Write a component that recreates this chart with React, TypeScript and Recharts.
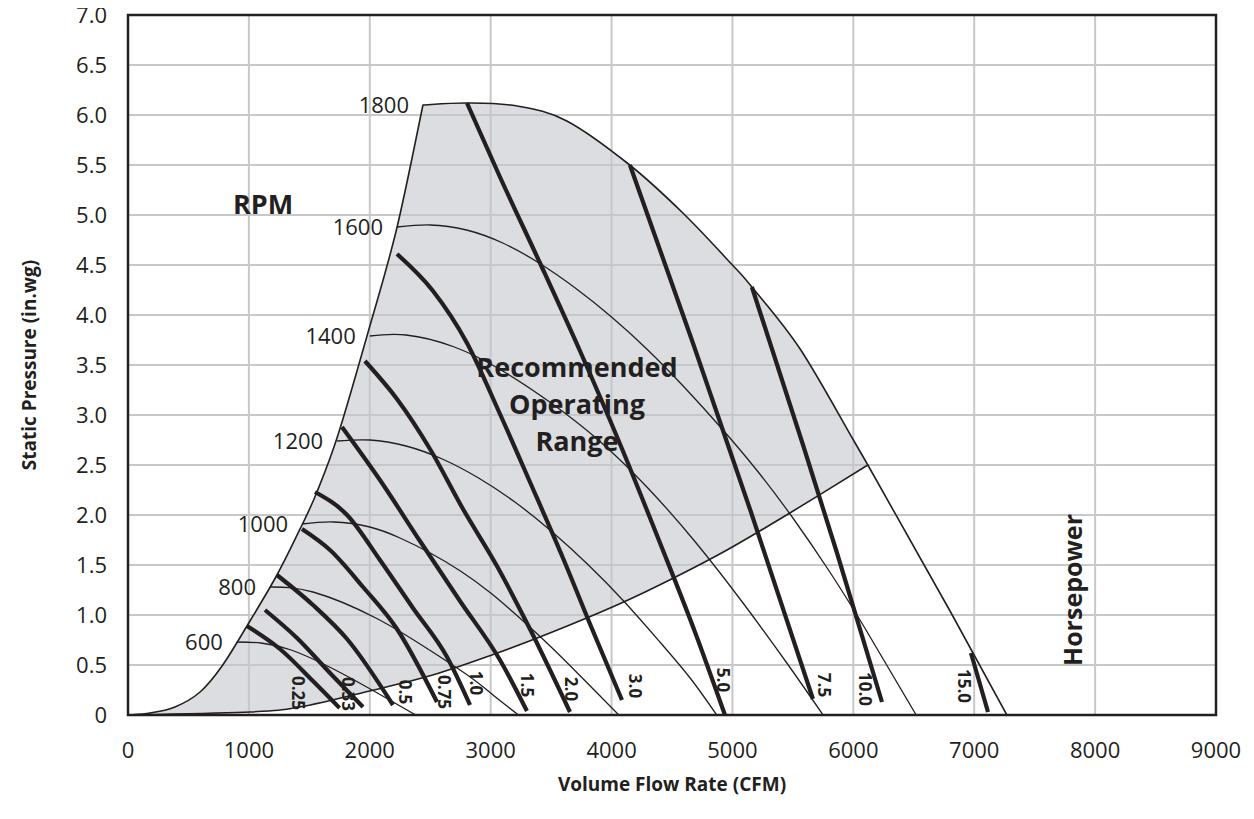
import React from "react";
import {
  ComposedChart,
  Scatter,
  XAxis,
  YAxis,
  CartesianGrid,
  ReferenceArea,
  ReferenceDot,
  Label,
} from "recharts";

type Pt = [number, number];

const xTicks = [0, 1000, 2000, 3000, 4000, 5000, 6000, 7000, 8000, 9000];
const yTicks = [0, 0.5, 1, 1.5, 2, 2.5, 3, 3.5, 4, 4.5, 5, 5.5, 6, 6.5, 7];

// edges of the shaded "Recommended Operating Range"
const surgeLine: Pt[] = [
  [0, 0], [182, 0.02], [389, 0.08], [596, 0.23], [778, 0.49], [984, 0.89],
  [1232, 1.4], [1439, 1.9], [1563, 2.23], [1737, 2.8], [1977, 3.79],
  [2220, 4.85], [2440, 6.1],
];
const maxSpeedTop: Pt[] = [
  [2440, 6.1], [2800, 6.12], [3220, 6.09], [3630, 5.94], [4150, 5.5],
  [4590, 5.02], [5000, 4.5], [5161, 4.28], [5560, 3.66], [6010, 2.73],
  [6120, 2.5],
];
const maxSpeedTail: Pt[] = [[6120, 2.5], [6800, 1.04], [7270, 0]];
const systemLine: Pt[] = [
  [0, 0], [1010, 0.03], [1420, 0.08], [2000, 0.24], [2520, 0.4], [3010, 0.6],
  [3490, 0.82], [4045, 1.1], [4480, 1.35], [4955, 1.65], [5475, 2.02], [6120, 2.5],
];

// fan curves (thin)
const rpm600: Pt[] = [[900, 0.73], [1100, 0.72], [1350, 0.65], [1650, 0.49], [1900, 0.33], [2150, 0.16], [2380, 0]];
const rpm800: Pt[] = [[1175, 1.28], [1530, 1.23], [2050, 0.97], [2480, 0.66], [2830, 0.38], [3030, 0.19], [3230, 0]];
const rpm1000: Pt[] = [[1440, 1.91], [1700, 1.93], [2000, 1.88], [2250, 1.77], [2500, 1.62], [2750, 1.44], [3000, 1.22], [3250, 0.96], [3500, 0.68], [3750, 0.38], [4060, 0]];
const rpm1200: Pt[] = [[1730, 2.74], [2000, 2.75], [2300, 2.69], [2600, 2.56], [2900, 2.37], [3200, 2.13], [3500, 1.84], [3800, 1.51], [4100, 1.14], [4400, 0.73], [4650, 0.37], [4870, 0]];
const rpm1400: Pt[] = [[2000, 3.79], [2300, 3.8], [2700, 3.68], [3100, 3.44], [3500, 3.12], [3900, 2.74], [4300, 2.27], [4700, 1.72], [5100, 1.1], [5450, 0.52], [5750, 0]];
const rpm1600: Pt[] = [[2225, 4.88], [2500, 4.9], [2800, 4.85], [3100, 4.72], [3400, 4.52], [3700, 4.27], [4000, 3.98], [4300, 3.65], [4600, 3.28], [4900, 2.88], [5200, 2.45], [5500, 1.97], [5800, 1.44], [6100, 0.86], [6520, 0]];
const rpmCurves = [rpm600, rpm800, rpm1000, rpm1200, rpm1400, rpm1600];
const rpmNames = ["600", "800", "1000", "1200", "1400", "1600", "1800"];

// horsepower lines (thick)
const hp025: Pt[] = [[984, 0.89], [1257, 0.66], [1530, 0.34], [1750, 0.07]];
const hp033: Pt[] = [[1133, 1.05], [1398, 0.77], [1671, 0.42], [1944, 0.08]];
const hp05: Pt[] = [[1232, 1.4], [1530, 1.1], [1812, 0.76], [2192, 0.1]];
const hp075: Pt[] = [[1439, 1.86], [1671, 1.65], [1944, 1.28], [2225, 0.86], [2556, 0.13]];
const hp10: Pt[] = [[1547, 2.23], [1812, 2.0], [2084, 1.55], [2357, 1.07], [2639, 0.58], [2829, 0.1]];
const hp15: Pt[] = [[1770, 2.88], [2084, 2.35], [2415, 1.74], [2746, 1.14], [3077, 0.55], [3300, 0.04]];
const hp20: Pt[] = [[1960, 3.54], [2225, 3.16], [2498, 2.66], [2771, 2.06], [3052, 1.49], [3325, 0.86], [3656, 0.03]];
const hp30: Pt[] = [[2225, 4.61], [2523, 4.24], [2804, 3.72], [3077, 3.01], [3325, 2.33], [3598, 1.57], [3846, 0.84], [4086, 0.15]];
const hp50: Pt[] = [[2804, 6.12], [3077, 5.38], [3408, 4.52], [3739, 3.64], [4070, 2.71], [4401, 1.72], [4690, 0.83], [4938, 0]];
const hp75: Pt[] = [[4152, 5.5], [4673, 3.72], [5153, 2.03], [5666, 0.16]];
const hp100: Pt[] = [[5161, 4.28], [5584, 2.7], [5865, 1.62], [6237, 0.13]];
const hp150: Pt[] = [[6973, 0.62], [7114, 0.03]];
const hpLines = [hp025, hp033, hp05, hp075, hp10, hp15, hp20, hp30, hp50, hp75, hp100, hp150];
const hpNames = ["0.25", "0.33", "0.5", "0.75", "1.0", "1.5", "2.0", "3.0", "5.0", "7.5", "10.0", "15.0"];
const hpNameAt: Pt[] = [
  [1406, 0.22], [1820, 0.21], [2291, 0.23], [2614, 0.23], [2879, 0.32], [3300, 0.3],
  [3664, 0.26], [4194, 0.29], [4922, 0.35], [5757, 0.3], [6096, 0.26], [6915, 0.29],
];

const INK = "#231f20";
const FONT = "'Open Sans', 'Noto Sans', sans-serif";

const toRows = (pts: Pt[]) => pts.map(([x, y]) => ({ x, y }));

// polygon of the shaded range: surge line up, 1800 rpm down, system line back
const regionRows = toRows([
  ...surgeLine,
  ...maxSpeedTop.slice(1),
  ...systemLine.slice().reverse().slice(1),
]);
const apexIdx = surgeLine.length - 1;
const cornerIdx = apexIdx + maxSpeedTop.length - 1;

type XY = { x: number; y: number };

function curveThrough(pts: XY[]) {
  let d = "";
  for (let i = 0; i < pts.length - 1; i++) {
    const p0 = pts[i - 1] || pts[i];
    const p1 = pts[i];
    const p2 = pts[i + 1];
    const p3 = pts[i + 2] || p2;
    const c1x = p1.x + (p2.x - p0.x) / 6;
    const c1y = p1.y + (p2.y - p0.y) / 6;
    const c2x = p2.x - (p3.x - p1.x) / 6;
    const c2y = p2.y - (p3.y - p1.y) / 6;
    d += ` C${c1x},${c1y} ${c2x},${c2y} ${p2.x},${p2.y}`;
  }
  return d;
}

function RegionShape(props: any) {
  const pts: XY[] = (props.points || []).map((p: any) => ({
    x: p.x ?? p.cx,
    y: p.y ?? p.cy,
  }));
  if (pts.length < 3) return <g />;
  const pieces = [
    pts.slice(0, apexIdx + 1),
    pts.slice(apexIdx, cornerIdx + 1),
    pts.slice(cornerIdx),
  ];
  let d = `M${pts[0].x},${pts[0].y}`;
  pieces.forEach((pc) => {
    d += curveThrough(pc);
  });
  d += " Z";
  return (
    <path
      d={d}
      fill="rgb(197,198,203)"
      fillOpacity={0.6}
      stroke={INK}
      strokeWidth={1.6}
      strokeLinejoin="round"
    />
  );
}

const rpmStarts: Pt[] = [...rpmCurves.map((c) => c[0]), maxSpeedTop[0]];

const noDot = () => <g />;

export default function App() {
  return (
    <div style={{ marginTop: -8, marginLeft: -8 }}>
      <ComposedChart
        width={1246}
        height={811}
        margin={{ top: 15, right: 30, bottom: 16, left: 0 }}
      >
        <CartesianGrid stroke="#c8c8c8" strokeWidth={2} />
        <XAxis
          type="number"
          dataKey="x"
          domain={[0, 9000]}
          ticks={xTicks}
          interval={0}
          allowDataOverflow
          tickLine={false}
          axisLine={false}
          tickSize={0}
          tickMargin={27}
          height={80}
          tick={{ fontSize: 22, fill: INK, fontFamily: FONT }}
        >
          <Label
            value="Volume Flow Rate (CFM)"
            position="insideBottom"
            offset={4}
            style={{ fontSize: 19, fontWeight: 700, fill: INK, fontFamily: FONT }}
          />
        </XAxis>
        <YAxis
          type="number"
          domain={[0, 7]}
          ticks={yTicks}
          interval={0}
          allowDataOverflow
          tickLine={false}
          axisLine={false}
          tickSize={0}
          tickMargin={21}
          width={128}
          tickFormatter={(v: number) => (v === 0 ? "0" : v.toFixed(1))}
          tick={{ fontSize: 22, fill: INK, fontFamily: FONT }}
        >
          <Label
            value="Static Pressure (in.wg)"
            angle={-90}
            position="insideLeft"
            offset={29}
            style={{
              fontSize: 19,
              fontWeight: 700,
              fill: INK,
              fontFamily: FONT,
              textAnchor: "middle",
            }}
          />
        </YAxis>

        <Scatter
          data={regionRows}
          dataKey="y"
          isAnimationActive={false}
          legendType="none"
          shape={noDot}
          line={(p: any) => <RegionShape {...p} />}
          lineType="joint"
        />

        {rpmCurves.map((c, i) => (
          <Scatter
            key={"rpm" + i}
            data={toRows(c)}
            dataKey="y"
            fill={INK}
            shape={noDot}
            line={{ stroke: INK, strokeWidth: 1.3 }}
            lineType="joint"
            lineJointType="natural"
            legendType="none"
            isAnimationActive={false}
          />
        ))}
        <Scatter
          data={toRows(maxSpeedTail)}
          dataKey="y"
          fill={INK}
          shape={noDot}
          line={{ stroke: INK, strokeWidth: 1.6 }}
          lineType="joint"
          lineJointType="linear"
          legendType="none"
          isAnimationActive={false}
        />

        {hpLines.map((c, i) => (
          <Scatter
            key={"hp" + i}
            data={toRows(c)}
            dataKey="y"
            fill={INK}
            shape={noDot}
            line={{ stroke: INK, strokeWidth: 4.2 }}
            lineType="joint"
            lineJointType="monotoneX"
            legendType="none"
            isAnimationActive={false}
          />
        ))}

        {rpmStarts.map(([x, y], i) => (
          <ReferenceDot
            key={"rl" + i}
            x={x}
            y={y}
            r={0}
            shape={(p: any) => (
              <text
                x={p.cx - 14}
                y={p.cy}
                dy="0.36em"
                textAnchor="end"
                fontSize={22}
                fontFamily={FONT}
                fill={INK}
              >
                {rpmNames[i]}
              </text>
            )}
          />
        ))}

        {hpNameAt.map(([x, y], i) => (
          <ReferenceDot
            key={"hl" + i}
            x={x}
            y={y}
            r={0}
            shape={(p: any) => (
              <text
                x={p.cx}
                y={p.cy}
                dy="0.36em"
                transform={`rotate(90 ${p.cx} ${p.cy})`}
                textAnchor="middle"
                fontSize={17}
                fontWeight={700}
                fontFamily={FONT}
                fill={INK}
              >
                {hpNames[i]}
              </text>
            )}
          />
        ))}

        <ReferenceDot
          x={1117}
          y={5.11}
          r={0}
          shape={(p: any) => (
            <text x={p.cx} y={p.cy} dy="0.36em" textAnchor="middle" fontSize={27} fontWeight={700} fontFamily={FONT} fill={INK}>
              RPM
            </text>
          )}
        />
        <ReferenceDot
          x={3714}
          y={3.11}
          r={0}
          shape={(p: any) => (
            <text textAnchor="middle" fontSize={27} fontWeight={700} fontFamily={FONT} fill={INK}>
              <tspan x={p.cx} y={p.cy - 37} dy="0.36em">Recommended</tspan>
              <tspan x={p.cx} y={p.cy} dy="0.36em">Operating</tspan>
              <tspan x={p.cx} y={p.cy + 37} dy="0.36em">Range</tspan>
            </text>
          )}
        />
        <ReferenceDot
          x={7816}
          y={1.25}
          r={0}
          shape={(p: any) => (
            <text
              x={p.cx}
              y={p.cy}
              dy="0.36em"
              transform={`rotate(-90 ${p.cx} ${p.cy})`}
              textAnchor="middle"
              fontSize={25}
              fontWeight={700}
              fontFamily={FONT}
              fill={INK}
            >
              Horsepower
            </text>
          )}
        />

        <ReferenceArea
          x1={0}
          x2={9000}
          y1={0}
          y2={7}
          fill="none"
          fillOpacity={0}
          stroke={INK}
          strokeWidth={2.5}
          ifOverflow="visible"
        />
      </ComposedChart>
    </div>
  );
}
